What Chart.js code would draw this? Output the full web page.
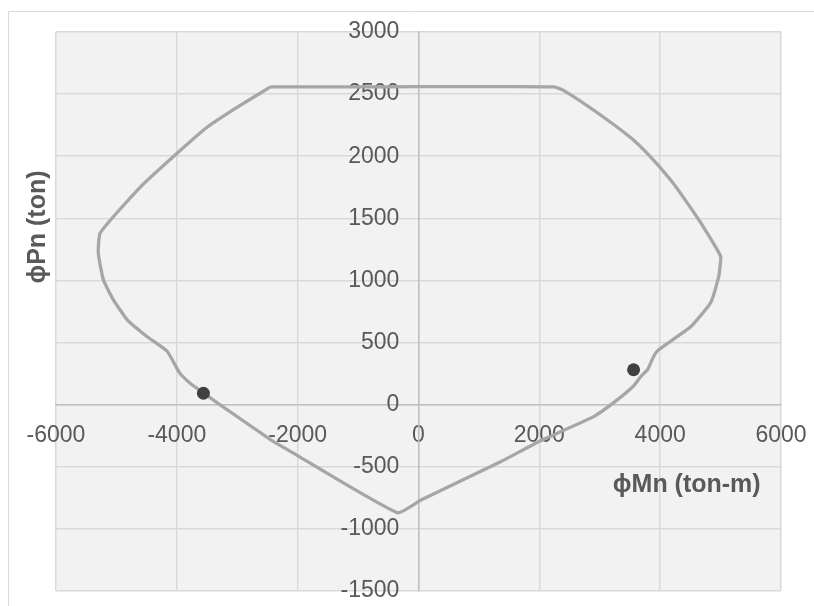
<!DOCTYPE html>
<html>
<head>
<meta charset="utf-8">
<script src="https://cdn.jsdelivr.net/npm/chart.js@4/dist/chart.umd.min.js"></script>
<style>
  html, body { margin: 0; padding: 0; background: #ffffff; }
  #wrap { position: relative; width: 814px; height: 606px; }
</style>
</head>
<body>
<div id="wrap"><canvas id="c" width="814" height="606"></canvas></div>
<script>
// Interaction diagram: design moment ϕMn (ton-m) vs design axial load ϕPn (ton)
const curveMn = [
  -2450, -1000, 0, 1000, 2240,
  2400, 2960, 3510, 3840, 4170, 4390, 4670, 5000,
  4990, 4968, 4835, 4504, 3970,
  3890, 3790, 3676, 3560, 3230, 2900, 2020, 1358, 33,
  -350,
  -2170, -2450, -3330, -3560, -3775, -3960, -4160,
  -4490, -4820, -5050, -5216, -5300, -5266,
  -4604, -3991, -3494, -2998, -2450
];
const curvePn = [
  2558, 2558, 2560, 2560, 2558,
  2530, 2350, 2150, 1995, 1810, 1665, 1465, 1195,
  1110, 1029, 820, 627, 440,
  386, 281, 225, 150, 16, -96, -290, -460, -770,
  -870,
  -362, -281, 15, 95, 170, 260, 430,
  547, 683, 844, 1005, 1222, 1385,
  1752, 2026, 2235, 2395, 2558
];
// Demand points (Mu, Pu)
const demandMn = [-3560, 3560];
const demandPn = [92, 281];

const xTicks = [-6000, -4000, -2000, 0, 2000, 4000, 6000];
const yTicks = [-1500, -1000, -500, 0, 500, 1000, 1500, 2000, 2500, 3000];

const curveData = curveMn.map((m, i) => ({ x: m, y: curvePn[i] }));
const demandData = demandMn.map((m, i) => ({ x: m, y: demandPn[i] }));

const TEXT = '#595959';
const FONT = '"Liberation Sans", Arial, sans-serif';

// axes sit inside the plot, so they should not reserve any edge space
function noEdgePadding(s) {
  s.paddingLeft = 0; s.paddingRight = 0; s.paddingTop = 0; s.paddingBottom = 0;
}

const frame = {
  id: 'frame',
  beforeDraw(chart) {
    const { ctx, chartArea: a } = chart;
    ctx.save();
    // outer chart border
    ctx.strokeStyle = '#d9d9d9';
    ctx.lineWidth = 1;
    ctx.beginPath();
    ctx.moveTo(8.5, chart.height);
    ctx.lineTo(8.5, 11.5);
    ctx.lineTo(chart.width, 11.5);
    ctx.stroke();
    // plot area fill
    ctx.fillStyle = '#f2f2f2';
    ctx.fillRect(a.left, a.top, a.right - a.left, a.bottom - a.top);
    ctx.restore();
  },
  afterDraw(chart) {
    const { ctx, chartArea: a, scales } = chart;
    ctx.save();
    ctx.fillStyle = TEXT;
    ctx.font = 'bold 25px ' + FONT;
    ctx.textAlign = 'center';
    ctx.textBaseline = 'middle';
    // horizontal axis title
    ctx.fillText('ϕMn (ton-m)', scales.x.getPixelForValue(4440), scales.y.getPixelForValue(-650));
    // vertical axis title
    ctx.translate(a.left - 18, scales.y.getPixelForValue(1430));
    ctx.rotate(-Math.PI / 2);
    ctx.fillText('ϕPn (ton)', 0, 0);
    ctx.restore();
  }
};

new Chart(document.getElementById('c'), {
  type: 'scatter',
  data: {
    datasets: [
      {
        data: curveData,
        showLine: true,
        borderColor: '#a6a6a6',
        borderWidth: 3.3,
        pointRadius: 0,
        tension: 0.15,
        borderJoinStyle: 'round',
        order: 2
      },
      {
        data: demandData,
        showLine: false,
        pointRadius: 6.5,
        pointBackgroundColor: '#404040',
        pointBorderColor: '#404040',
        pointBorderWidth: 0,
        order: 1
      }
    ]
  },
  options: {
    responsive: false,
    animation: false,
    devicePixelRatio: 1,
    layout: { padding: { left: 56, top: 32, right: 33, bottom: 15 } },
    plugins: { legend: { display: false }, tooltip: { enabled: false } },
    scales: {
      x: {
        type: 'linear',
        position: { y: 0 },
        min: xTicks[0],
        max: xTicks[xTicks.length - 1],
        afterBuildTicks(s) { s.ticks = xTicks.map(v => ({ value: v })); },
        afterFit: noEdgePadding,
        grid: { color: '#d9d9d9', lineWidth: 1.5, drawTicks: false },
        border: { color: '#bfbfbf', width: 1.5 },
        ticks: { color: TEXT, font: { family: FONT, size: 23 }, padding: 17, maxRotation: 0,
                 callback: v => String(v) }
      },
      y: {
        type: 'linear',
        position: { x: 0 },
        min: yTicks[0],
        max: yTicks[yTicks.length - 1],
        afterBuildTicks(s) { s.ticks = yTicks.map(v => ({ value: v })); },
        afterFit: noEdgePadding,
        grid: { color: '#d9d9d9', lineWidth: 1.5, drawTicks: false },
        border: { color: '#bfbfbf', width: 1.5 },
        // labels are right-aligned on the centred axis; trailing spaces keep a gap from it
        ticks: { color: TEXT, font: { family: FONT, size: 23 },
                 callback: v => String(v) + '   ' }
      }
    }
  },
  plugins: [frame]
});
</script>
</body>
</html>
